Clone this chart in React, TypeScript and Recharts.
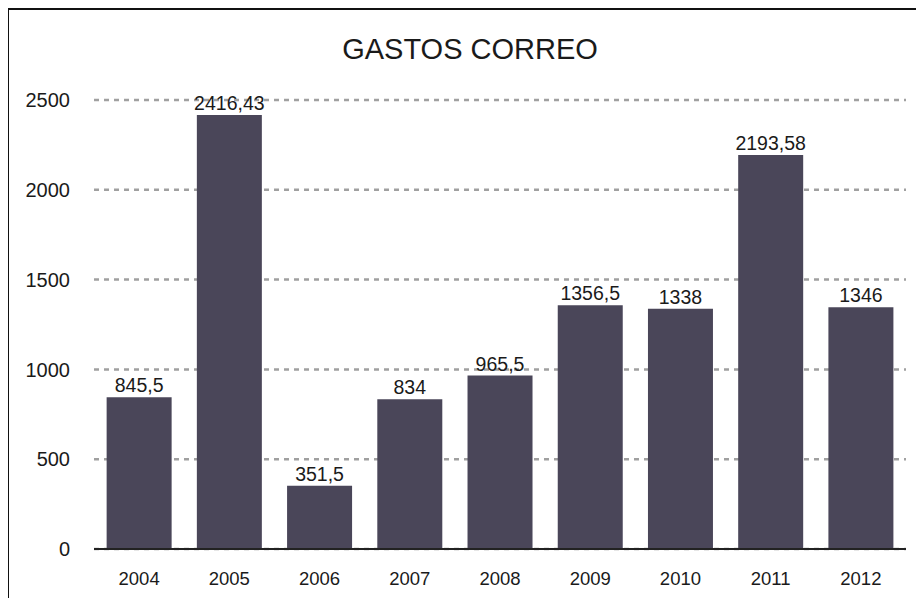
import React from "react";
import { BarChart, Bar, XAxis, YAxis, CartesianGrid, LabelList } from "recharts";

const years = ["2004", "2005", "2006", "2007", "2008", "2009", "2010", "2011", "2012"];
const gastos = [845.5, 2416.43, 351.5, 834, 965.5, 1356.5, 1338, 2193.58, 1346];
const yTicks = [0, 500, 1000, 1500, 2000, 2500];

const data = years.map((year, i) => ({ year, gastos: gastos[i] }));

const fmt = (v: any) => String(v).replace(".", ",");

const font = "'Liberation Sans', Arial, sans-serif";

const App = () => {
  return (
    <div
      style={{
        position: "relative",
        width: 924,
        height: 606,
        margin: -8,
        overflow: "hidden",
        background: "#fff",
        fontFamily: font,
      }}
    >
      {/* frame, only top and left edges are visible */}
      <div
        style={{
          position: "absolute",
          left: 6,
          top: 6,
          width: 1000,
          height: 700,
          borderTop: "4px solid #111",
          borderLeft: "3px solid #111",
        }}
      />
      <div
        style={{
          position: "absolute",
          left: 0,
          width: 940,
          top: 33,
          textAlign: "center",
          fontSize: 29,
          color: "#1a1a1a",
        }}
      >
        GASTOS CORREO
      </div>
      <BarChart
        width={924}
        height={606}
        data={data}
        margin={{ top: 100, right: 18, left: 0, bottom: 0 }}
        barCategoryGap="14%"
        style={{ position: "absolute", left: 0, top: 0, fontFamily: font }}
      >
        <CartesianGrid
          vertical={false}
          stroke="#a0a0a0"
          strokeWidth={2.5}
          strokeDasharray="5 5"
        />
        <XAxis
          dataKey="year"
          height={57}
          tickLine={false}
          tickMargin={17}
          axisLine={{ stroke: "#222", strokeWidth: 2 }}
          tick={{ fill: "#1a1a1a", fontSize: 18.5 }}
        />
        <YAxis
          width={94}
          domain={[0, 2500]}
          ticks={yTicks}
          axisLine={false}
          tickLine={false}
          tickMargin={18}
          tick={{ fill: "#1a1a1a", fontSize: 20 }}
        />
        <Bar dataKey="gastos" fill="#4a4659" isAnimationActive={false}>
          <LabelList
            dataKey="gastos"
            position="top"
            formatter={fmt}
            style={{ fill: "#1a1a1a", fontSize: 19.5 }}
          />
        </Bar>
      </BarChart>
    </div>
  );
};

export default App;
